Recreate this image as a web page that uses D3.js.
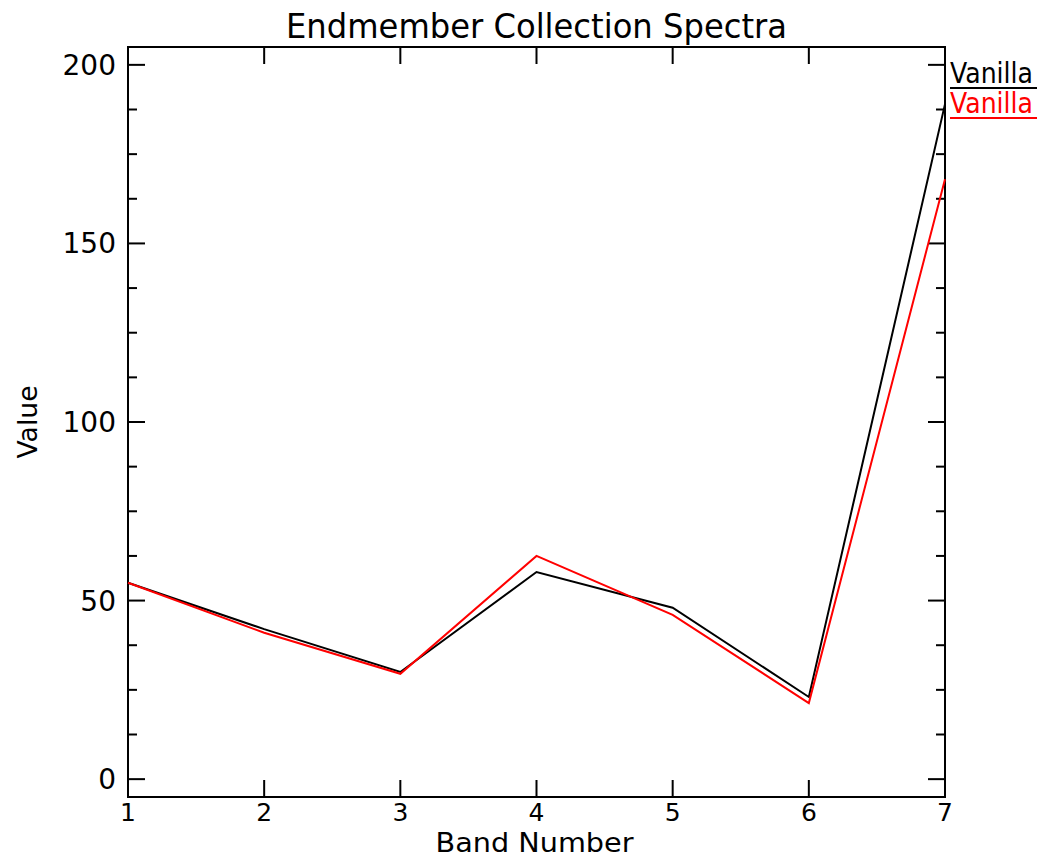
<!DOCTYPE html>
<html>
<head>
<meta charset="utf-8">
<script src="https://cdn.jsdelivr.net/npm/d3@7"></script>
<style>
  html, body { margin: 0; padding: 0; background: #fff; }
  svg { display: block; }
  text { font-family: "DejaVu Sans", sans-serif; fill: #000; }
</style>
</head>
<body>
<svg id="chart" width="1043" height="858"></svg>
<script>
// Band numbers and spectral values per endmember
const bands = [1, 2, 3, 4, 5, 6, 7];
const vanillaA = [55, 42, 30, 58, 48, 23, 189];
const vanillaB = [55, 41, 29.5, 62.5, 46, 21.3, 168];
const seriesNames = ["Vanilla", "Vanilla"];
const seriesColors = ["#000000", "#ff0000"];
const yMajorTicks = [0, 50, 100, 150, 200];
const yMinorTicks = d3.range(0, 205, 12.5).filter(v => v % 50 !== 0);
const xTicks = [1, 2, 3, 4, 5, 6, 7];

const svg = d3.select("#chart");
const box = { left: 128, right: 945, top: 47, bottom: 797 };

const x = d3.scaleLinear().domain([1, 7]).range([box.left, box.right]);
const y = d3.scaleLinear().domain([-5, 205]).range([box.bottom, box.top]);

const axisStroke = 2;

// Plot frame
svg.append("rect")
  .attr("x", box.left).attr("y", box.top)
  .attr("width", box.right - box.left).attr("height", box.bottom - box.top)
  .attr("fill", "none").attr("stroke", "#000").attr("stroke-width", axisStroke);

// Inward ticks on all four sides
const tickG = svg.append("g").attr("stroke", "#000").attr("stroke-width", axisStroke);
const majorLen = 17, minorLen = 9;
yMajorTicks.forEach(v => {
  tickG.append("line").attr("x1", box.left).attr("x2", box.left + majorLen).attr("y1", y(v)).attr("y2", y(v));
  tickG.append("line").attr("x1", box.right).attr("x2", box.right - majorLen).attr("y1", y(v)).attr("y2", y(v));
});
yMinorTicks.forEach(v => {
  tickG.append("line").attr("x1", box.left).attr("x2", box.left + minorLen).attr("y1", y(v)).attr("y2", y(v));
  tickG.append("line").attr("x1", box.right).attr("x2", box.right - minorLen).attr("y1", y(v)).attr("y2", y(v));
});
xTicks.forEach(v => {
  tickG.append("line").attr("x1", x(v)).attr("x2", x(v)).attr("y1", box.bottom).attr("y2", box.bottom - majorLen);
  tickG.append("line").attr("x1", x(v)).attr("x2", x(v)).attr("y1", box.top).attr("y2", box.top + majorLen);
});

// Tick labels
svg.append("g").selectAll("text").data(yMajorTicks).join("text")
  .attr("x", box.left - 12).attr("y", d => y(d) + 10)
  .attr("text-anchor", "end").attr("font-size", 28)
  .text(d => d);
svg.append("g").selectAll("text").data(xTicks).join("text")
  .attr("x", d => x(d)).attr("y", box.bottom + 24)
  .attr("text-anchor", "middle").attr("font-size", 25)
  .text(d => d);

// Titles
svg.append("text")
  .attr("x", (box.left + box.right) / 2).attr("y", 38)
  .attr("text-anchor", "middle").attr("font-size", 33)
  .attr("textLength", 501).attr("lengthAdjust", "spacingAndGlyphs")
  .text("Endmember Collection Spectra");
svg.append("text")
  .attr("x", (box.left + box.right) / 2 - 2).attr("y", 852)
  .attr("text-anchor", "middle").attr("font-size", 26)
  .attr("textLength", 198).attr("lengthAdjust", "spacingAndGlyphs")
  .text("Band Number");
svg.append("text")
  .attr("transform", `translate(37, ${(box.top + box.bottom) / 2}) rotate(-90)`)
  .attr("text-anchor", "middle").attr("font-size", 27)
  .attr("textLength", 73).attr("lengthAdjust", "spacingAndGlyphs")
  .text("Value");

// Spectra lines
const line = d3.line().x((d, i) => x(bands[i])).y(d => y(d));
[vanillaA, vanillaB].forEach((vals, i) => {
  svg.append("path")
    .datum(vals)
    .attr("d", line)
    .attr("fill", "none")
    .attr("stroke", seriesColors[i])
    .attr("stroke-width", 2)
    .attr("stroke-linejoin", "miter");
});

// Legend with underlined names
seriesNames.forEach((name, i) => {
  const base = 83 + i * 30;
  const g = svg.append("g");
  g.append("text")
    .attr("x", 950).attr("y", base)
    .attr("font-size", 28)
    .style("fill", seriesColors[i])
    .attr("textLength", 83).attr("lengthAdjust", "spacingAndGlyphs")
    .text(name);
  g.append("line")
    .attr("x1", 950).attr("x2", 1037)
    .attr("y1", base + 5).attr("y2", base + 5)
    .attr("stroke", seriesColors[i]).attr("stroke-width", 2);
});
</script>
</body>
</html>
